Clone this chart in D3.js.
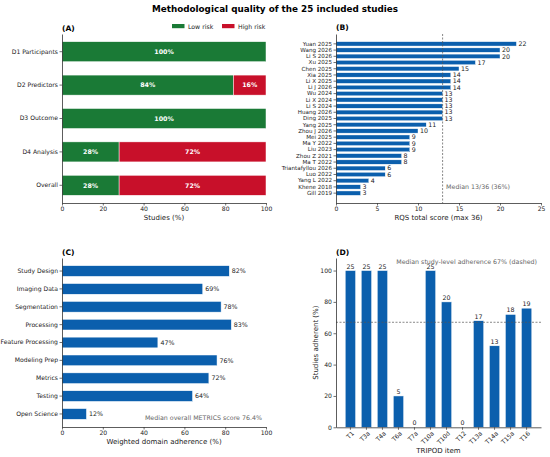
<!DOCTYPE html>
<html>
<head>
<meta charset="utf-8">
<script src="https://cdn.jsdelivr.net/npm/d3@7"></script>
<style>
  body { margin: 0; background: #fff; }
  svg { font-family: "DejaVu Sans", sans-serif; }
</style>
</head>
<body>
<svg id="chart" width="550" height="457"></svg>
<script>
// (A) PROBAST domains
var domains = ['D1 Participants', 'D2 Predictors', 'D3 Outcome', 'D4 Analysis', 'Overall'];
var lowRisk = [100, 84, 100, 28, 28];
var highRisk = [0, 16, 0, 72, 72];

// (B) RQS per study
var studies = ['Yuan 2025', 'Wang 2026', 'Li S 2026', 'Xu 2025', 'Chen 2025', 'Xia 2025', 'Li X 2025',
  'Li J 2026', 'Wu 2024', 'Li X 2024', 'Li S 2024', 'Huang 2026', 'Ding 2025', 'Yang 2025', 'Zhou J 2026',
  'Mei 2025', 'Ma Y 2022', 'Liu 2023', 'Zhou Z 2021', 'Ma T 2022', 'Triantafyllou 2026', 'Luo 2022',
  'Yang L 2022', 'Khene 2018', 'Gill 2019'];
var rqsScores = [22, 20, 20, 17, 15, 14, 14, 14, 13, 13, 13, 13, 13, 11, 10, 9, 9, 9, 8, 8, 6, 6, 4, 3, 3];
var rqsTicks = [0, 5, 10, 15, 20, 25];
var rqsMedian = 13;

// (C) METRICS domains
var metricsDomains = ['Study Design', 'Imaging Data', 'Segmentation', 'Processing', 'Feature Processing',
  'Modeling Prep', 'Metrics', 'Testing', 'Open Science'];
var metricsValues = [82, 69, 78, 83, 47, 76, 72, 64, 12];

// (D) TRIPOD items
var tripodItems = ['T1', 'T3a', 'T4a', 'T6a', 'T7a', 'T10a', 'T10d', 'T12', 'T13a', 'T14a', 'T15a', 'T16'];
var tripodCounts = [25, 25, 25, 5, 0, 25, 20, 0, 17, 13, 18, 19];
var tripodPct = [100, 100, 100, 20, 0, 100, 80, 0, 68, 52, 72, 76];
var tripodMedian = 67;

var pctTicks = [0, 20, 40, 60, 80, 100];

var green = '#1a7a36';
var red = '#c8102a';
var blue = '#0b5fad';
var axisColor = '#333';

var svg = d3.select('#chart');

function styleAxis(g) {
  g.selectAll('.domain').attr('stroke', axisColor).attr('stroke-width', 0.8);
  g.selectAll('.tick line').attr('stroke', axisColor).attr('stroke-width', 0.7);
  g.selectAll('.tick text').attr('fill', '#222').attr('font-size', 6.1)
      .attr('font-family', '"DejaVu Sans", sans-serif');
}

function panelTitle(x, y, label) {
  svg.append('text')
      .attr('x', x)
      .attr('y', y)
      .attr('font-size', 7.6)
      .attr('font-weight', 'bold')
      .text(label);
}

function axisLabel(x, y, label, rotate) {
  var t = svg.append('text')
      .attr('x', x)
      .attr('y', y)
      .attr('text-anchor', 'middle')
      .attr('font-size', 7)
      .attr('fill', '#222')
      .text(label);
  if (rotate) {
    t.attr('transform', 'rotate(-90,' + x + ',' + y + ')');
  }
}

// title
svg.append('text')
    .attr('x', 275)
    .attr('y', 12)
    .attr('text-anchor', 'middle')
    .attr('font-size', 8.8)
    .attr('font-weight', 'bold')
    .text('Methodological quality of the 25 included studies');

// ---------- (A)
(function () {
  var left = 62, right = 266, top = 34, bottom = 203;
  var x = d3.scaleLinear().domain([0, 100]).range([left, right]);
  var y = d3.scaleBand().domain(domains).range([top, bottom]).paddingInner(0.4).paddingOuter(0.23);

  var g = svg.append('g');
  domains.forEach(function (d, i) {
    var parts = [
      {v0: 0, v1: lowRisk[i], color: green},
      {v0: lowRisk[i], v1: lowRisk[i] + highRisk[i], color: red}
    ];
    parts.forEach(function (p) {
      if (p.v1 - p.v0 <= 0) return;
      g.append('rect')
          .attr('x', x(p.v0))
          .attr('y', y(d))
          .attr('width', x(p.v1) - x(p.v0))
          .attr('height', y.bandwidth())
          .attr('fill', p.color)
          .attr('stroke', '#fff')
          .attr('stroke-width', 0.5);
      g.append('text')
          .attr('x', (x(p.v0) + x(p.v1)) / 2)
          .attr('y', y(d) + y.bandwidth() / 2)
          .attr('dy', '0.35em')
          .attr('text-anchor', 'middle')
          .attr('font-size', 6.3)
          .attr('font-weight', 'bold')
          .attr('fill', '#fff')
          .text((p.v1 - p.v0) + '%');
    });
  });

  svg.append('g').attr('transform', 'translate(0,' + bottom + ')')
      .call(d3.axisBottom(x).tickValues(pctTicks).tickSize(2.5).tickPadding(1.5).tickSizeOuter(0))
      .call(styleAxis);
  svg.append('g').attr('transform', 'translate(' + left + ',0)')
      .call(d3.axisLeft(y).tickSize(2.5).tickPadding(1.5).tickSizeOuter(0))
      .call(styleAxis);

  axisLabel((left + right) / 2, 220, 'Studies (%)');
  panelTitle(left, 30.5, '(A)');

  // legend
  var legend = [{label: 'Low risk', color: green, x: 172}, {label: 'High risk', color: red, x: 222}];
  legend.forEach(function (l) {
    svg.append('rect').attr('x', l.x).attr('y', 24).attr('width', 12.5).attr('height', 4.2)
        .attr('fill', l.color);
    svg.append('text').attr('x', l.x + 16).attr('y', 28.6).attr('font-size', 6.2)
        .attr('fill', '#222').text(l.label);
  });
})();

// ---------- (B)
(function () {
  var left = 336, right = 541, top = 34, bottom = 203;
  var x = d3.scaleLinear().domain([0, 25]).range([left, right]);
  var y = d3.scaleBand().domain(studies).range([top, bottom]).paddingInner(0.3).paddingOuter(1.235);

  var g = svg.append('g');
  g.selectAll('rect').data(studies).enter().append('rect')
      .attr('x', x(0))
      .attr('y', function (d) { return y(d); })
      .attr('width', function (d, i) { return x(rqsScores[i]) - x(0); })
      .attr('height', y.bandwidth())
      .attr('fill', blue)
      .attr('stroke', '#fff')
      .attr('stroke-width', 0.4);
  g.selectAll('text.val').data(studies).enter().append('text')
      .attr('class', 'val')
      .attr('x', function (d, i) { return x(rqsScores[i]) + 2; })
      .attr('y', function (d) { return y(d) + y.bandwidth() / 2; })
      .attr('dy', '0.35em')
      .attr('font-size', 6.3)
      .attr('fill', '#222')
      .text(function (d, i) { return rqsScores[i]; });

  g.append('line')
      .attr('x1', x(rqsMedian)).attr('x2', x(rqsMedian))
      .attr('y1', top).attr('y2', bottom)
      .attr('stroke', '#555')
      .attr('stroke-width', 0.7)
      .attr('stroke-dasharray', '2,1.5');
  g.append('text')
      .attr('x', x(rqsMedian) + 3.5)
      .attr('y', 189)
      .attr('font-size', 6.3)
      .attr('fill', '#666')
      .text('Median 13/36 (36%)');

  svg.append('g').attr('transform', 'translate(0,' + bottom + ')')
      .call(d3.axisBottom(x).tickValues(rqsTicks).tickSize(2.5).tickPadding(1.5).tickSizeOuter(0))
      .call(styleAxis);
  var ya = svg.append('g').attr('transform', 'translate(' + left + ',0)')
      .call(d3.axisLeft(y).tickSize(2.5).tickPadding(1.5).tickSizeOuter(0))
      .call(styleAxis);
  ya.selectAll('.tick text').attr('font-size', 5.6);

  axisLabel((left + right) / 2, 220, 'RQS total score (max 36)');
  panelTitle(left, 30, '(B)');
})();

// ---------- (C)
(function () {
  var left = 62, right = 266, top = 258, bottom = 427;
  var x = d3.scaleLinear().domain([0, 100]).range([left, right]);
  var y = d3.scaleBand().domain(metricsDomains).range([top, bottom]).paddingInner(0.4).paddingOuter(0.43);

  var g = svg.append('g');
  g.selectAll('rect').data(metricsDomains).enter().append('rect')
      .attr('x', x(0))
      .attr('y', function (d) { return y(d); })
      .attr('width', function (d, i) { return x(metricsValues[i]) - x(0); })
      .attr('height', y.bandwidth())
      .attr('fill', blue)
      .attr('stroke', '#fff')
      .attr('stroke-width', 0.5);
  g.selectAll('text.val').data(metricsDomains).enter().append('text')
      .attr('class', 'val')
      .attr('x', function (d, i) { return x(metricsValues[i]) + 2.5; })
      .attr('y', function (d) { return y(d) + y.bandwidth() / 2; })
      .attr('dy', '0.35em')
      .attr('font-size', 6.3)
      .attr('fill', '#222')
      .text(function (d, i) { return metricsValues[i] + '%'; });

  g.append('text')
      .attr('x', 262)
      .attr('y', 420)
      .attr('text-anchor', 'end')
      .attr('font-size', 6.3)
      .attr('fill', '#666')
      .text('Median overall METRICS score 76.4%');

  svg.append('g').attr('transform', 'translate(0,' + bottom + ')')
      .call(d3.axisBottom(x).tickValues(pctTicks).tickSize(2.5).tickPadding(1.5).tickSizeOuter(0))
      .call(styleAxis);
  svg.append('g').attr('transform', 'translate(' + left + ',0)')
      .call(d3.axisLeft(y).tickSize(2.5).tickPadding(1.5).tickSizeOuter(0))
      .call(styleAxis);

  axisLabel((left + right) / 2, 444, 'Weighted domain adherence (%)');
  panelTitle(left, 254.5, '(C)');
})();

// ---------- (D)
(function () {
  var left = 336, right = 541, top = 258, bottom = 427.3;
  var x = d3.scaleBand().domain(tripodItems).range([left, right]).paddingInner(0.35).paddingOuter(0.575);
  var y = d3.scaleLinear().domain([0, 108]).range([bottom, top]);

  var g = svg.append('g');
  g.selectAll('rect').data(tripodItems).enter().append('rect')
      .attr('x', function (d) { return x(d); })
      .attr('y', function (d, i) { return y(tripodPct[i]); })
      .attr('width', x.bandwidth())
      .attr('height', function (d, i) { return y(0) - y(tripodPct[i]); })
      .attr('fill', blue)
      .attr('stroke', '#fff')
      .attr('stroke-width', 0.5);
  g.selectAll('text.val').data(tripodItems).enter().append('text')
      .attr('class', 'val')
      .attr('x', function (d) { return x(d) + x.bandwidth() / 2; })
      .attr('y', function (d, i) { return y(tripodPct[i]) - 2; })
      .attr('text-anchor', 'middle')
      .attr('font-size', 6.3)
      .attr('fill', '#222')
      .text(function (d, i) { return tripodCounts[i]; });

  g.append('line')
      .attr('x1', left).attr('x2', right)
      .attr('y1', y(tripodMedian)).attr('y2', y(tripodMedian))
      .attr('stroke', '#555')
      .attr('stroke-width', 0.7)
      .attr('stroke-dasharray', '2,1.5');
  g.append('text')
      .attr('x', 537)
      .attr('y', 264)
      .attr('text-anchor', 'end')
      .attr('font-size', 6.3)
      .attr('fill', '#666')
      .text('Median study-level adherence 67% (dashed)');

  var xa = svg.append('g').attr('transform', 'translate(0,' + bottom + ')')
      .call(d3.axisBottom(x).tickSize(2.5).tickPadding(1.5).tickSizeOuter(0))
      .call(styleAxis);
  xa.selectAll('.tick text')
      .attr('text-anchor', 'end')
      .attr('y', 0)
      .attr('dy', '0.35em')
      .attr('transform', 'translate(2.5,5) rotate(-45)');
  svg.append('g').attr('transform', 'translate(' + left + ',0)')
      .call(d3.axisLeft(y).tickValues(pctTicks).tickSize(2.5).tickPadding(1.5).tickSizeOuter(0))
      .call(styleAxis);

  axisLabel((left + right) / 2, 453, 'TRIPOD item');
  axisLabel(318, (top + bottom) / 2, 'Studies adherent (%)', true);
  panelTitle(left, 254.5, '(D)');
})();
</script>
</body>
</html>
